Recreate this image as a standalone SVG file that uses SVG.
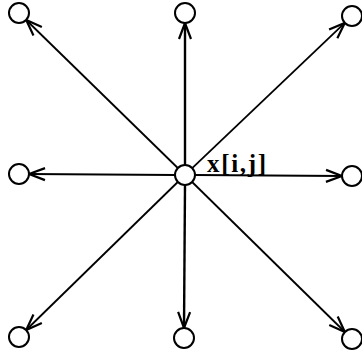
<svg xmlns="http://www.w3.org/2000/svg" width="362" height="354" viewBox="0 0 362 354">
<style>
.node{fill:#fff;stroke:#000;stroke-width:2}
.edge{stroke:#000;stroke-width:1.8;fill:none;marker-end:url(#arr)}
.lbl{font-family:"Liberation Serif",serif;font-weight:bold;font-size:25px;fill:#000}
</style>
<defs>
<marker id="arr" markerUnits="userSpaceOnUse" markerWidth="22" markerHeight="16" viewBox="-18 -8 20 16" refX="0" refY="0" orient="auto">
<path d="M-16,-6 L0,0 L-16,6" fill="none" stroke="#000" stroke-width="2.2"/>
</marker>
</defs>
<g id="connectors">
<line class="edge" x1="177.8" y1="168" x2="26.2" y2="20"/>
<line class="edge" x1="185" y1="165" x2="185" y2="23" style="stroke-width:2.4"/>
<line class="edge" x1="192.2" y1="168.1" x2="344.8" y2="22.9"/>
<line class="edge" x1="175" y1="175" x2="29" y2="174"/>
<line class="edge" x1="195" y1="175" x2="342" y2="176"/>
<line class="edge" x1="177.8" y1="182" x2="26.2" y2="330"/>
<line class="edge" x1="185" y1="185" x2="184" y2="328" style="stroke-width:2.4"/>
<line class="edge" x1="192.1" y1="182" x2="344.9" y2="332"/>
</g>
<g id="n-center"><circle class="node" cx="185" cy="175" r="10"/><text class="lbl" x="207" y="172" textLength="59" lengthAdjust="spacing">x[i,j]</text></g>
<g id="n-tl"><circle class="node" cx="19" cy="13" r="10"/></g>
<g id="n-tc"><circle class="node" cx="185" cy="13" r="10"/></g>
<g id="n-tr"><circle class="node" cx="352" cy="16" r="10"/></g>
<g id="n-ml"><circle class="node" cx="19" cy="174" r="10"/></g>
<g id="n-mr"><circle class="node" cx="352" cy="176" r="10"/></g>
<g id="n-bl"><circle class="node" cx="19" cy="337" r="10"/></g>
<g id="n-bc"><circle class="node" cx="184" cy="338" r="10"/></g>
<g id="n-br"><circle class="node" cx="352" cy="339" r="10"/></g>
</svg>
